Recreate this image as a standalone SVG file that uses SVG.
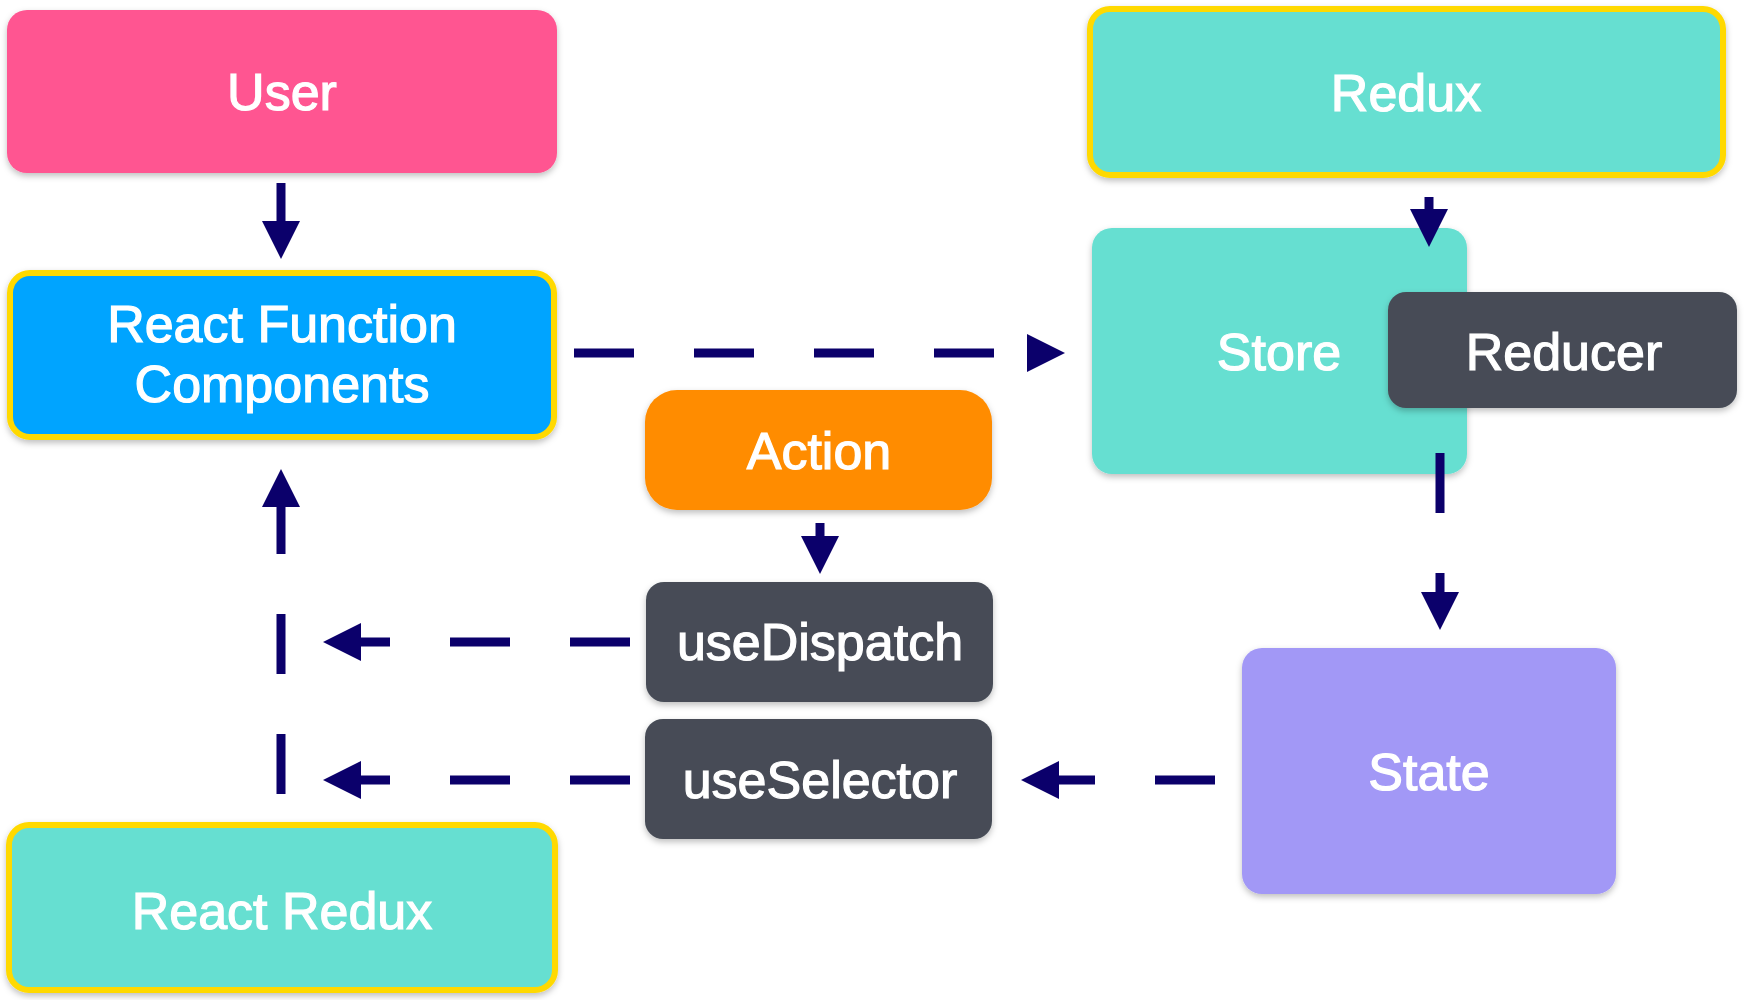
<svg xmlns="http://www.w3.org/2000/svg" width="1744" height="1000" viewBox="0 0 1744 1000">
  <defs>
    <filter id="sh" x="-10%" y="-10%" width="120%" height="130%">
      <feDropShadow dx="0" dy="3" stdDeviation="3" flood-color="#000" flood-opacity="0.25"/>
    </filter>
    <marker id="ah" viewBox="0 0 38 38" markerWidth="38" markerHeight="38" markerUnits="userSpaceOnUse" refX="1" refY="19" orient="auto">
      <path d="M0,0 L38,19 L0,38 z" fill="#0B006B"/>
    </marker>
  </defs>
  <style>
    .box { filter: url(#sh); }
    .hl { stroke: #FFD900; stroke-width: 6; }
    .lbl { font-family: "Liberation Sans", Arial, sans-serif; font-size: 52px; fill: #FFFFFF; stroke: #FFFFFF; stroke-width: 1.2; text-anchor: middle; }
    .con { fill: none; stroke: #0B006B; stroke-width: 9; }
    .dash { stroke-dasharray: 60 60; }
  </style>
  <rect width="1744" height="1000" fill="#FFFFFF"/>

  <g id="user">
    <rect class="box" x="7" y="10" width="550" height="163" rx="20" fill="#FF5591"/>
    <text class="lbl" x="282" y="110">User</text>
  </g>
  <g id="react-function-components">
    <rect class="box hl" x="10" y="273" width="544" height="164" rx="20" fill="#03A4FF"/>
    <text class="lbl" x="282" y="342">React Function</text>
    <text class="lbl" x="282" y="402">Components</text>
  </g>
  <g id="redux">
    <rect class="box hl" x="1090" y="9" width="633" height="166" rx="20" fill="#66DFD1"/>
    <text class="lbl" x="1406" y="111">Redux</text>
  </g>
  <g id="store">
    <rect class="box" x="1092" y="228" width="375" height="246" rx="20" fill="#66DFD1"/>
    <text class="lbl" x="1279" y="370">Store</text>
  </g>
  <g id="reducer">
    <rect class="box" x="1388" y="292" width="349" height="116" rx="18" fill="#464C56"/>
    <text class="lbl" x="1564" y="370">Reducer</text>
  </g>
  <g id="action">
    <rect class="box" x="645" y="390" width="347" height="120" rx="32" fill="#FF8C02"/>
    <text class="lbl" x="819" y="469">Action</text>
  </g>
  <g id="usedispatch">
    <rect class="box" x="646" y="582" width="347" height="120" rx="18" fill="#464C56"/>
    <text class="lbl" x="820" y="660">useDispatch</text>
  </g>
  <g id="useselector">
    <rect class="box" x="645" y="719" width="347" height="120" rx="18" fill="#464C56"/>
    <text class="lbl" x="820" y="798">useSelector</text>
  </g>
  <g id="state">
    <rect class="box" x="1242" y="648" width="374" height="246" rx="20" fill="#A298F6"/>
    <text class="lbl" x="1429" y="790">State</text>
  </g>
  <g id="react-redux">
    <rect class="box hl" x="9" y="825" width="546" height="165" rx="20" fill="#66DFD1"/>
    <text class="lbl" x="282" y="929">React Redux</text>
  </g>

  <g id="connectors">
    <path class="con" d="M281,183 L281,222" marker-end="url(#ah)"/>
    <path class="con dash" d="M574,353 L1028,353" marker-end="url(#ah)"/>
    <path class="con" d="M1429,197 L1429,210" marker-end="url(#ah)"/>
    <path class="con" d="M820,523 L820,537" marker-end="url(#ah)"/>
    <path class="con dash" d="M1440,453 L1440,593" marker-end="url(#ah)"/>
    <path class="con dash" d="M1215,780 L1058,780" marker-end="url(#ah)"/>
    <path class="con dash" d="M630,642 L360,642" marker-end="url(#ah)"/>
    <path class="con dash" d="M630,780 L360,780" marker-end="url(#ah)"/>
    <path class="con dash" d="M281,794 L281,506" marker-end="url(#ah)"/>
  </g>
</svg>
